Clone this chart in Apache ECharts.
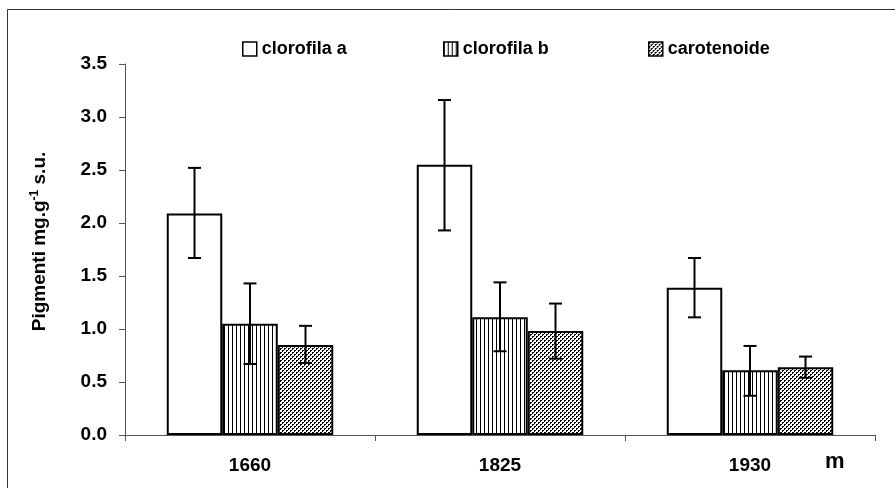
<!DOCTYPE html>
<html><head><meta charset="utf-8">
<script src="https://cdn.jsdelivr.net/npm/echarts@6/dist/echarts.min.js"></script>
<style>html,body{margin:0;padding:0;background:#fff}#c{width:895px;height:488px}</style>
</head><body><div id="c"></div>
<script>
const categories = ['1660', '1825', '1930'];
const seriesNames = ['clorofila a', 'clorofila b', 'carotenoide'];
const clorofilaA = [2.09, 2.55, 1.39];
const clorofilaB = [1.05, 1.11, 0.61];
const carotenoide = [0.85, 0.98, 0.64];
const errA = [[1.67, 2.52], [1.93, 3.16], [1.11, 1.67]];
const errB = [[0.67, 1.43], [0.79, 1.44], [0.37, 0.84]];
const errC = [[0.68, 1.03], [0.72, 1.24], [0.54, 0.74]];
const yTicks = [0, 0.5, 1.0, 1.5, 2.0, 2.5, 3.0, 3.5];

const FONT = '"Liberation Sans", Arial, sans-serif';

function stripePattern() {
  const c = document.createElement('canvas'); c.width = 4; c.height = 4;
  const x = c.getContext('2d');
  x.fillStyle = '#fff'; x.fillRect(0, 0, 4, 4);
  x.fillStyle = '#000'; x.fillRect(0, 0, 1, 4);
  return c;
}
function dotPattern() {
  const c = document.createElement('canvas'); c.width = 4; c.height = 4;
  const x = c.getContext('2d');
  x.fillStyle = '#fff'; x.fillRect(0, 0, 4, 4);
  x.fillStyle = '#000';
  [[0,0],[1,0],[0,1],[2,2],[3,2],[2,3]].forEach(p => x.fillRect(p[0], p[1], 1, 1));
  return c;
}
const fills = ['#ffffff', {image: stripePattern(), repeat: 'repeat'}, {image: dotPattern(), repeat: 'repeat'}];
const values = [clorofilaA, clorofilaB, carotenoide];
const errs = [errA, errB, errC];
const CAT_GAP = 0.334;

const chart = echarts.init(document.getElementById('c'));
const series = [];
values.forEach((v, i) => {
  series.push({
    name: seriesNames[i], type: 'bar', data: v,
    barGap: '0%', barCategoryGap: (CAT_GAP * 100) + '%',
    itemStyle: {color: fills[i], borderColor: '#000', borderWidth: 2},
    emphasis: {disabled: true}, animation: false
  });
});
errs.forEach((e, i) => {
  series.push({
    type: 'custom', animation: false, silent: true, z: 10,
    data: e.map((d, k) => [k, d[0], d[1]]),
    renderItem: function (params, api) {
      const band = api.size([1, 0])[0];
      const bw = band * (1 - CAT_GAP) / 3;
      const lo = api.coord([api.value(0), api.value(1)]);
      const hi = api.coord([api.value(0), api.value(2)]);
      const x = lo[0] + (i - 1) * bw;
      const cap = 6.5;
      const st = {stroke: '#000', lineWidth: 2};
      return {type: 'group', children: [
        {type: 'line', shape: {x1: x, y1: lo[1], x2: x, y2: hi[1]}, style: st},
        {type: 'line', shape: {x1: x - cap, y1: lo[1], x2: x + cap, y2: lo[1]}, style: st},
        {type: 'line', shape: {x1: x - cap, y1: hi[1], x2: x + cap, y2: hi[1]}, style: st}
      ]};
    }
  });
});

const legendLefts = [242, 443, 648];
const legends = seriesNames.map((n, i) => ({
  data: [n], left: legendLefts[i], top: 40, padding: 0, icon: 'rect', itemWidth: 14, itemHeight: 14,
  selectedMode: false, itemStyle: {borderWidth: 1.5},
  textStyle: {fontFamily: FONT, fontWeight: 'bold', fontSize: 18, color: '#000'}
}));

chart.setOption({
  animation: false,
  backgroundColor: '#fff',
  legend: legends,
  grid: {left: 125, right: 20, top: 64, bottom: 53, containLabel: false},
  xAxis: {
    type: 'category', data: categories,
    axisLine: {lineStyle: {color: '#555', width: 1}},
    axisTick: {show: true, length: 6, lineStyle: {color: '#555'}},
    axisLabel: {fontFamily: FONT, fontWeight: 'bold', fontSize: 19, color: '#000', margin: 21}
  },
  yAxis: {
    type: 'value', min: yTicks[0], max: yTicks[yTicks.length - 1], interval: 0.5,
    splitLine: {show: false},
    axisLine: {show: true, lineStyle: {color: '#555', width: 1}},
    axisTick: {show: true, length: 6, lineStyle: {color: '#555'}},
    axisLabel: {fontFamily: FONT, fontWeight: 'bold', fontSize: 19, color: '#000', margin: 18,
      formatter: v => v.toFixed(1)},
    name: '{t|Pigmenti mg.g}{s|-1}{t| s.u.}',
    nameLocation: 'middle', nameRotate: 90, nameGap: 74,
    nameTextStyle: {
      padding: [0, 0, 0, 16],
      rich: {
        t: {fontFamily: FONT, fontWeight: 'bold', fontSize: 19, color: '#000', lineHeight: 22},
        s: {fontFamily: FONT, fontWeight: 'bold', fontSize: 12, color: '#000', lineHeight: 22, verticalAlign: 'top'}
      }
    }
  },
  graphic: [
    {type: 'rect', shape: {x: 7.5, y: 9.5, width: 900, height: 490}, style: {fill: 'none', stroke: '#333', lineWidth: 1}, z: -1, silent: true},
    {type: 'text', left: 825, top: 451, style: {text: 'm', font: 'bold 22px ' + FONT, fill: '#000'}}
  ],
  series: series
});
</script></body></html>
